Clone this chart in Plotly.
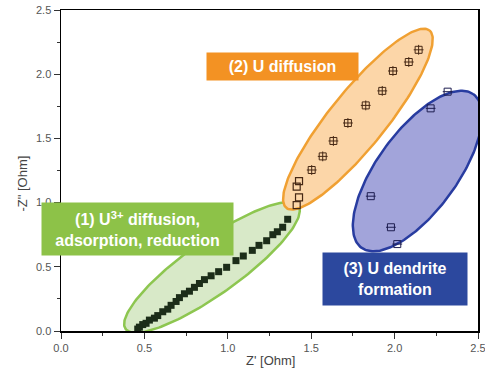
import numpy as np
import plotly.graph_objects as go

# ---- data ----
g_x = [0.46, 0.47, 0.49, 0.51, 0.53, 0.56, 0.58, 0.61, 0.64, 0.66, 0.69, 0.71, 0.74, 0.77, 0.80,
       0.83, 0.86, 0.90, 0.945, 0.993, 1.049, 1.093, 1.147, 1.187, 1.233, 1.27, 1.297, 1.329, 1.359]
g_y = [0.015, 0.03, 0.05, 0.06, 0.085, 0.10, 0.12, 0.15, 0.17, 0.20, 0.23, 0.26, 0.29, 0.31, 0.34,
       0.37, 0.40, 0.43, 0.462, 0.496, 0.548, 0.584, 0.628, 0.667, 0.703, 0.75, 0.773, 0.808, 0.87]

o_open_x = [1.413, 1.427, 1.413, 1.427]
o_open_y = [0.98, 1.04, 1.124, 1.168]
o_x = [1.503, 1.569, 1.633, 1.72, 1.827, 1.926, 1.99, 2.085, 2.144]
o_y = [1.254, 1.36, 1.48, 1.62, 1.757, 1.87, 2.025, 2.095, 2.19]

b_x = [2.016, 1.978, 1.857, 2.216, 2.318]
b_y = [0.677, 0.808, 1.05, 1.734, 1.864]

x_ticks = [0.0, 0.5, 1.0, 1.5, 2.0, 2.5]
y_ticks = [0.0, 0.5, 1.0, 1.5, 2.0, 2.5]

W, H = 485, 383
ML, MR, MT, MB = 61, 7, 10, 52
PW, PH = W - ML - MR, H - MT - MB
SX = PW / 2.5
SY = PH / 2.5


def ellipse(cx, cy, a, b, ang):
    t = np.linspace(0, 2 * np.pi, 200)
    th = np.radians(ang)
    dx = a * np.cos(t) * np.cos(th) - b * np.sin(t) * np.sin(th)
    dy = a * np.cos(t) * np.sin(th) + b * np.sin(t) * np.cos(th)
    return cx + dx / SX, cy + dy / SY


fig = go.Figure()

ells = [
    (0.905, 0.495, 106, 27, 35.4, "rgb(216,233,200)", "rgb(141,198,80)"),
    (1.78, 1.65, 114, 28, 51.1, "rgb(252,214,168)", "rgb(240,160,50)"),
    (2.137, 1.246, 95, 40, 53.9, "rgb(162,164,218)", "rgb(40,60,160)"),
]
for cx, cy, a, b, ang, fc, lc in ells:
    ex, ey = ellipse(cx, cy, a, b, ang)
    fig.add_trace(go.Scatter(x=ex, y=ey, mode="lines", fill="toself", fillcolor=fc,
                             line=dict(color=lc, width=2.5), hoverinfo="skip", showlegend=False))

fig.add_trace(go.Scatter(x=g_x, y=g_y, mode="markers", showlegend=False,
                         marker=dict(symbol="square", size=7, color="rgb(28,45,25)")))
fig.add_trace(go.Scatter(x=o_open_x, y=o_open_y, mode="markers", showlegend=False,
                         marker=dict(symbol="square-open", size=7, color="rgb(70,40,20)",
                                     line=dict(width=1.2))))
fig.add_trace(go.Scatter(x=o_x, y=o_y, mode="markers", showlegend=False,
                         marker=dict(symbol="square-open", size=7, color="rgb(70,40,20)",
                                     line=dict(width=1))))
fig.add_trace(go.Scatter(x=o_x, y=o_y, mode="markers", showlegend=False,
                         marker=dict(symbol="cross-thin-open", size=7, color="rgb(70,40,20)",
                                     line=dict(width=1, color="rgb(70,40,20)"))))
fig.add_trace(go.Scatter(x=b_x, y=b_y, mode="markers", showlegend=False,
                         marker=dict(symbol="square-open", size=7, color="rgb(30,30,80)",
                                     line=dict(width=1))))
fig.add_trace(go.Scatter(x=b_x, y=b_y, mode="markers", showlegend=False,
                         marker=dict(symbol="line-ew-open", size=7, color="rgb(30,30,80)",
                                     line=dict(width=1, color="rgb(30,30,80)"))))

lab_font = dict(family="Liberation Sans, Arial", size=16, color="white")
fig.add_annotation(x=0.459, y=0.794, xref="x", yref="y", showarrow=False,
                   text="<b>(1) U<sup>3+</sup> diffusion,<br>adsorption, reduction</b>",
                   bgcolor="rgb(141,194,72)", width=191, height=52, borderpad=0, font=lab_font)
fig.add_annotation(x=1.328, y=2.06, xref="x", yref="y", showarrow=False,
                   text="<b>(2) U diffusion</b>",
                   bgcolor="rgb(243,146,35)", width=151, height=27, borderpad=0, font=lab_font)
fig.add_annotation(x=2.002, y=0.405, xref="x", yref="y", showarrow=False,
                   text="<b>(3) U dendrite<br>formation</b>",
                   bgcolor="rgb(44,72,158)", width=144, height=52, borderpad=0, font=lab_font)

fig.add_annotation(x=(270 - ML) / PW, y=-(370 - (H - MB)) / PH,
                   xref="paper", yref="paper", showarrow=False, text="Z' [Ohm]",
                   font=dict(family="Liberation Sans, Arial", size=13, color="#444"))
fig.add_annotation(x=(12 - ML) / PW, y=((H - MB) - 184) / PH,
                   xref="paper", yref="paper", showarrow=False, text='-Z" [Ohm]', textangle=-90,
                   font=dict(family="Liberation Sans, Arial", size=13, color="#444"))

axis_common = dict(range=[0, 2.5], showgrid=False, zeroline=False, showline=True,
                   linecolor="black", linewidth=1.5, mirror=True, ticks="outside",
                   ticklen=6, tickwidth=1, tickcolor="#333", automargin=False,
                   ticklabeloverflow="allow",
                   minor=dict(ticks="outside", ticklen=3, dtick=0.25, tickcolor="#333"),
                   tickfont=dict(family="Liberation Sans, Arial", size=11, color="#555"))
fig.update_xaxes(tickvals=x_ticks, ticktext=[f"{v:.1f}" for v in x_ticks], **axis_common)
fig.update_yaxes(tickvals=y_ticks, ticktext=[f"{v:.1f}" for v in y_ticks], **axis_common)

fig.update_layout(width=W, height=H, margin=dict(l=ML, r=MR, t=MT, b=MB, autoexpand=False),
                  plot_bgcolor="white", paper_bgcolor="white", hovermode=False)

fig.write_html("out.html", config={"displayModeBar": False, "staticPlot": True},
               post_script="document.body.style.margin='0';document.body.style.overflow='hidden';"
                           "document.documentElement.style.overflow='hidden';")
